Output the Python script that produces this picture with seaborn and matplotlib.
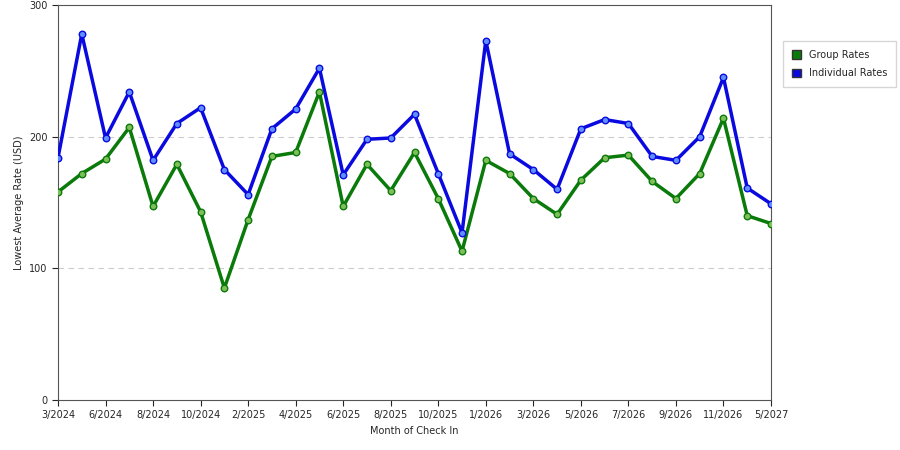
import matplotlib
matplotlib.use("Agg")
import matplotlib.pyplot as plt
import seaborn as sns
import pandas as pd
from matplotlib.patches import Patch

tick_labels = ["3/2024","6/2024","8/2024","10/2024","2/2025","4/2025","6/2025","8/2025",
               "10/2025","1/2026","3/2026","5/2026","7/2026","9/2026","11/2026","5/2027"]
individual = [184,278,199,234,182,210,222,175,156,206,221,252,171,198,199,217,172,127,
              273,187,175,160,206,213,210,185,182,200,245,161,149]
group = [158,172,183,207,147,179,143,85,137,185,188,234,147,179,159,188,153,113,
         182,172,153,141,167,184,186,166,153,172,214,140,134]

idx = list(range(len(individual)))
df = pd.concat([
    pd.DataFrame({"i": idx, "rate": group, "series": "Group Rates"}),
    pd.DataFrame({"i": idx, "rate": individual, "series": "Individual Rates"}),
])

sns.set_style("white")
fig = plt.figure(figsize=(9, 4.5), dpi=100)
ax = fig.add_axes([58/900, 50/450, 713/900, 395/450])
colors = {"Group Rates": "#0a7a0a", "Individual Rates": "#0a0ae0"}
light = {"Group Rates": "#7fbf5a", "Individual Rates": "#5f8fff"}
for name in ["Group Rates", "Individual Rates"]:
    d = df[df.series == name]
    sns.lineplot(data=d, x="i", y="rate", ax=ax, color=colors[name], lw=2.5, zorder=3)
    ax.scatter(d.i, d.rate, s=22, color=light[name], edgecolor=colors[name], lw=1, zorder=4)

ax.set_xlim(0, len(idx) - 1)
ax.set_ylim(0, 300)
ax.set_xticks(idx[::2])
ax.set_xticklabels(tick_labels, fontsize=7)
ax.set_yticks([0, 100, 200, 300])
ax.set_yticklabels(["0", "100", "200", "300"], fontsize=7)
for y in [100, 200]:
    ax.axhline(y, color="#cccccc", ls=(0, (5, 4)), lw=0.8, zorder=1)
ax.tick_params(axis="both", length=4, direction="out", bottom=True, left=True)
for s in ax.spines.values():
    s.set_color("#555555"); s.set_linewidth(0.8)
ax.set_xlabel("Month of Check In", fontsize=7)
ax.set_ylabel("Lowest Average Rate (USD)", fontsize=7)

handles = [Patch(facecolor="#0a7a0a", edgecolor="#333333"),
           Patch(facecolor="#0a0ae0", edgecolor="#333333")]
fig.legend(handles, ["Group Rates", "Individual Rates"], loc="upper left",
           bbox_to_anchor=(778/900, 1 - 36/450), fontsize=7, frameon=True,
           fancybox=False, edgecolor="#cccccc", handlelength=1, handleheight=1,
           labelspacing=0.9, borderpad=0.9)
fig.savefig("out.png", dpi=100)
